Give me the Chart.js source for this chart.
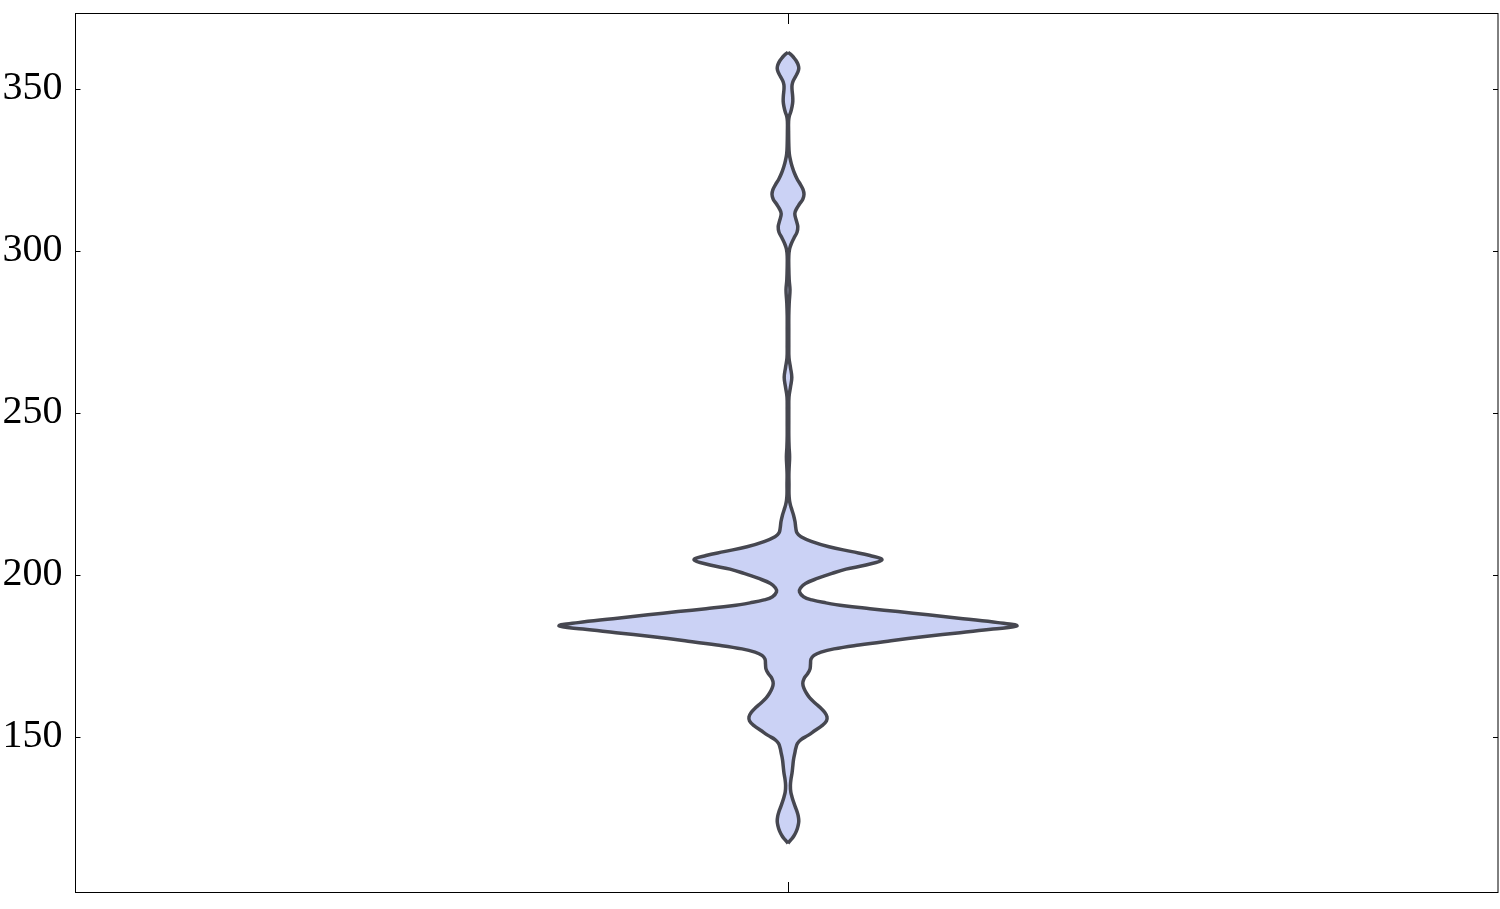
<!DOCTYPE html>
<html>
<head>
<meta charset="utf-8">
<script src="https://cdn.jsdelivr.net/npm/chart.js@4/dist/chart.umd.min.js"></script>
<style>
  html, body { margin: 0; padding: 0; background: #ffffff; }
  #wrap { width: 1500px; height: 909px; }
</style>
</head>
<body>
<div id="wrap"><canvas id="c" width="1500" height="909"></canvas></div>
<script>
// Violin profile: sampled values (y) and density half-widths (arbitrary units)
const values = [
  117.2, 118.3, 119.5, 121, 122.5, 124, 125.5, 127, 128.5, 130, 131.5, 133, 135, 137, 138.8,
  141, 143, 145, 146.5, 148, 149.2, 150.5, 152, 153.5, 155, 156.2, 157.5, 159, 160.5, 162,
  163.5, 165, 166.5, 168, 169.5, 171, 172.5, 174, 175.2, 176.2, 177.2, 178.4, 179.7, 181,
  182.2, 183.3, 184.3, 185.3, 186.5, 187.7, 188.7, 189.6, 190.5, 191.4, 192.3, 193.3, 194.8,
  196, 197.4, 199, 200.5, 201.8, 203.1, 204.7, 206, 207.2, 208.7, 210.3, 211.8, 213, 214.5,
  216.5, 218.5, 220, 221.5, 223, 225, 228, 231, 233.5, 236.5, 239.5, 243, 247, 251, 255, 258,
  261, 264, 267, 271, 276, 280, 284, 288, 291, 295, 298.5, 300.5, 302, 304, 305.8, 307.5,
  309.2, 311.5, 313, 314.5, 316, 317.5, 319, 320.5, 322, 324, 326, 328, 330, 333, 337, 340,
  341.5, 343, 344.5, 346.2, 348, 350, 351.3, 352.5, 353.8, 355.2, 356.4, 357.6, 358.8, 359.8,
  360.6, 361.3
];
const density = [
  0, 3, 6, 8.5, 10, 10.8, 10.3, 9, 7.2, 5.5, 4, 2.8, 2.4, 3, 4,
  4.8, 5.5, 6.8, 7.8, 9.5, 13, 20, 27, 34, 38.5, 39, 37, 32.5, 27, 22,
  18.5, 16, 14.8, 16, 19.5, 22, 22.5, 23, 26, 33, 46, 71, 103, 137,
  172, 205, 229, 210, 175, 140, 110, 82, 56, 38, 24, 15.5, 11.5,
  12.5, 17.5, 30, 44, 58, 78, 94, 82, 64, 41, 24, 13, 9, 7.8,
  7, 5.5, 4, 2.5, 1.5, 1, 1, 0.9, 1.2, 1.6, 1.1, 0.8, 0.8, 0.8, 1, 2.5,
  3.8, 2.5, 1, 0.8, 0.8, 0.8, 1.2, 2, 1.2, 0.8, 0.8, 1.5, 3, 6, 9, 9.8,
  8.5, 6.8, 8.5, 11.5, 14.8, 16, 15, 12.5, 9.5, 6.5, 4.2, 2.5, 1.3, 0.8, 0.6, 0.6,
  1.2, 2.8, 4, 4.8, 4.6, 4, 4.1, 5.2, 7.5, 9.8, 10.8, 10, 8, 5.5,
  3, 0
];
const yTickValues = [110, 120, 130, 140, 150, 160, 170, 180, 190, 200, 210, 220, 230, 240,
  250, 260, 270, 280, 290, 300, 310, 320, 330, 340, 350, 360, 370];
const yLabelValues = [150, 200, 250, 300, 350];
const categoryPosition = [0];

const lineColor = 'rgb(70,71,80)';
const fillColor = 'rgb(203,210,245)';

const framePlugin = {
  id: 'frame',
  afterDraw(chart) {
    const ctx = chart.ctx;
    const a = chart.chartArea;
    const ys = chart.scales.y;
    const xs = chart.scales.x;
    ctx.save();
    ctx.strokeStyle = '#000';
    ctx.lineWidth = 1;
    ctx.strokeRect(a.left, a.top, a.right - a.left, a.bottom - a.top);
    ctx.beginPath();
    ys.ticks.forEach(t => {
      const py = Math.round(ys.getPixelForValue(t.value)) + 0.5;
      const len = yLabelValues.includes(t.value) ? 5 : 2.5;
      ctx.moveTo(a.left, py); ctx.lineTo(a.left + len, py);
      ctx.moveTo(a.right, py); ctx.lineTo(a.right - len, py);
    });
    categoryPosition.forEach(c => {
      const px = Math.round(xs.getPixelForValue(c)) + 0.5;
      ctx.moveTo(px, a.bottom); ctx.lineTo(px, a.bottom - 10.5);
      ctx.moveTo(px, a.top); ctx.lineTo(px, a.top + 10.5);
    });
    ctx.stroke();
    ctx.restore();
  }
};

new Chart(document.getElementById('c'), {
  type: 'line',
  data: {
    datasets: [
      {
        label: 'right',
        data: values.map((v, i) => ({ x: density[i], y: v })),
        borderColor: lineColor,
        borderWidth: 3.5,
        pointRadius: 0,
        tension: 0.4,
        fill: false
      },
      {
        label: 'left',
        data: values.map((v, i) => ({ x: -density[i], y: v })),
        borderColor: lineColor,
        borderWidth: 3.5,
        pointRadius: 0,
        tension: 0.4,
        backgroundColor: fillColor,
        fill: '-1'
      }
    ]
  },
  options: {
    indexAxis: 'y',
    responsive: false,
    animation: false,
    devicePixelRatio: 1,
    layout: { padding: { top: 13.5, right: 2, bottom: 16.5, left: 0 } },
    scales: {
      x: { type: 'linear', min: -712.5, max: 710, display: false },
      y: {
        type: 'linear',
        min: 102,
        max: 373.3,
        afterBuildTicks: (scale) => { scale.ticks = yTickValues.map(v => ({ value: v })); },
        afterFit: (scale) => { scale.width = 75.5; scale.paddingTop = 0; scale.paddingBottom = 0; },
        grid: { display: false, drawTicks: false },
        border: { display: false },
        ticks: {
          autoSkip: false,
          padding: 13,
          color: '#000',
          font: { family: 'Liberation Serif', size: 40 },
          callback: (v) => yLabelValues.includes(v) ? String(v) : null
        }
      }
    },
    plugins: { legend: { display: false }, tooltip: { enabled: false } }
  },
  plugins: [framePlugin]
});
</script>
</body>
</html>
